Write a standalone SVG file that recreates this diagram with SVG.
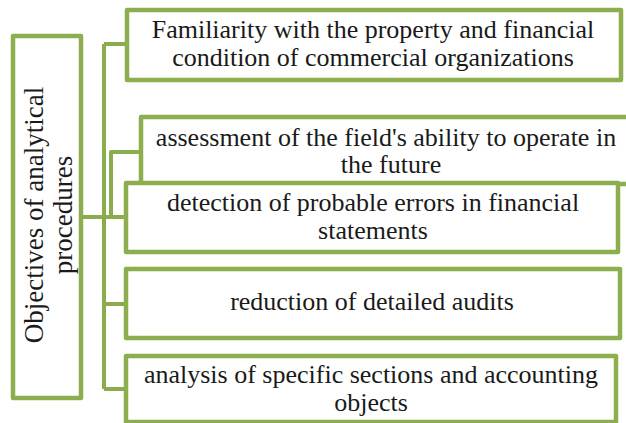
<svg xmlns="http://www.w3.org/2000/svg" width="626" height="423" viewBox="0 0 626 423">
<style>
.box{fill:#fff;stroke:#8cae4e;stroke-width:4.5;stroke-linejoin:round}
.con{fill:none;stroke:#8aac4c;stroke-width:4;stroke-linejoin:round}
.t{font-family:"Liberation Serif","Times New Roman",serif;font-size:26px;fill:#1a1a1a;text-anchor:middle}
.lab{font-size:27px}
</style>
<rect width="626" height="423" fill="#fff"/>
<g id="connectors">
<path class="con" d="M81 217 H126"/>
<path class="con" d="M104 44 V389"/>
<path class="con" d="M104 44 H127"/>
<path class="con" d="M104 304 H126"/>
<path class="con" d="M104 389 H126"/>
<path class="con" d="M111 217 V152 H141"/>
</g>
<g id="root">
<rect class="box" x="13" y="36" width="68" height="362"/>
<text class="t lab" transform="translate(43 215) rotate(-90)">Objectives of analytical</text>
<text class="t lab" transform="translate(72 215) rotate(-90)">procedures</text>
</g>
<g id="n1">
<rect class="box" x="127" y="10" width="494" height="70"/>
<text class="t" x="373" y="38">Familiarity with the property and financial</text>
<text class="t" x="373" y="66">condition of commercial organizations</text>
</g>
<g id="n2">
<rect class="box" x="141" y="117" width="520" height="67"/>
<text class="t" x="386" y="146">assessment of the field's ability to operate in</text>
<text class="t" x="391" y="173">the future</text>
</g>
<g id="n3">
<rect class="box" x="126" y="183" width="492" height="69"/>
<text class="t" x="373" y="211">detection of probable errors in financial</text>
<text class="t" x="373" y="239">statements</text>
</g>
<g id="n4">
<rect class="box" x="126" y="269" width="494" height="69"/>
<text class="t" x="372" y="310">reduction of detailed audits</text>
</g>
<g id="n5">
<rect class="box" x="126" y="356" width="490" height="66"/>
<text class="t" x="371" y="383">analysis of specific sections and accounting</text>
<text class="t" x="371" y="411">objects</text>
</g>
</svg>
